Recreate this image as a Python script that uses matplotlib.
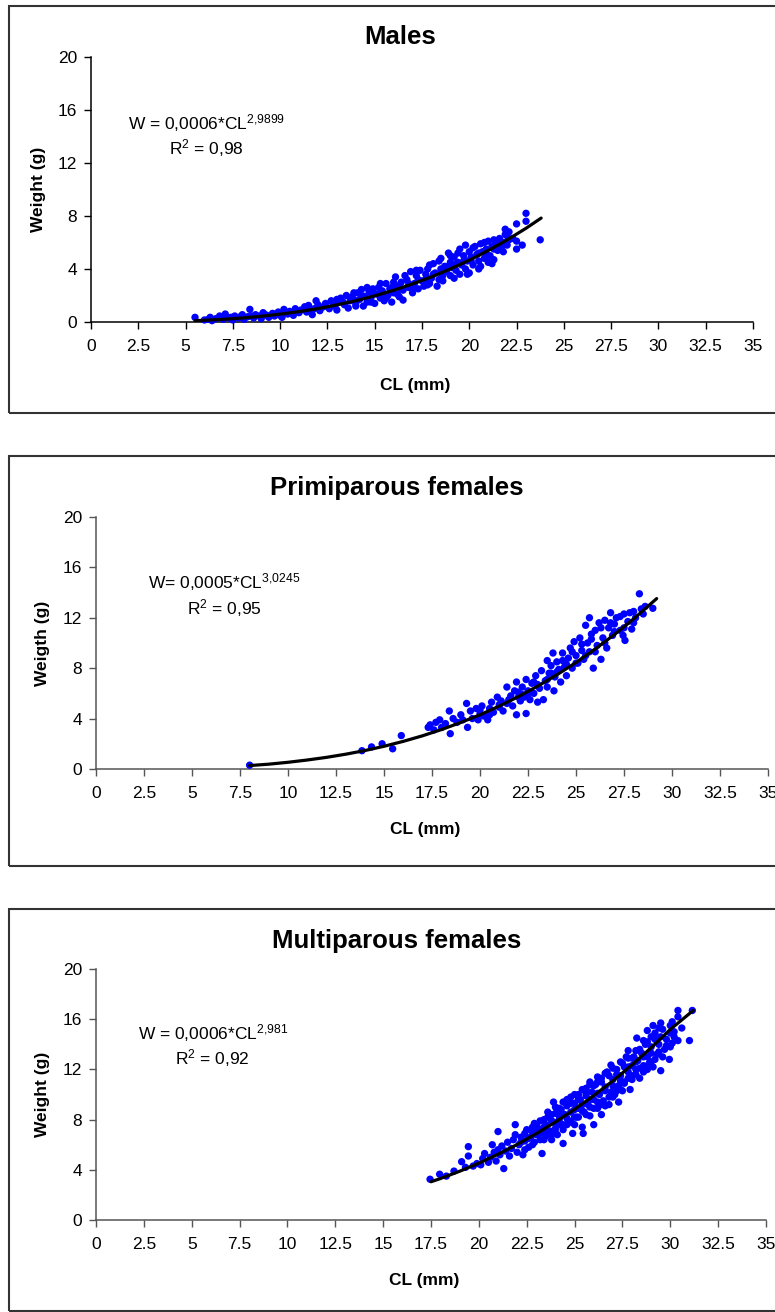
import matplotlib
matplotlib.use("Agg")
import matplotlib.pyplot as plt
from matplotlib.patches import Rectangle

plt.rcParams["font.family"] = ["Liberation Sans", "DejaVu Sans"]
plt.rcParams["mathtext.default"] = "regular"

# ---- data ------------------------------------------------------------------
x_ticks = [0, 2.5, 5, 7.5, 10, 12.5, 15, 17.5, 20, 22.5, 25, 27.5, 30, 32.5, 35]
x_tick_labels = ["0", "2.5", "5", "7.5", "10", "12.5", "15", "17.5", "20",
                 "22.5", "25", "27.5", "30", "32.5", "35"]
y_ticks = [0, 4, 8, 12, 16, 20]

titles = ["Males", "Primiparous females", "Multiparous females"]
y_labels = ["Weight (g)", "Weigth (g)", "Weight (g)"]
equations = ["W = 0,0006*CL$^{2{,}9899}$", "W= 0,0005*CL$^{3{,}0245}$",
             "W = 0,0006*CL$^{2{,}981}$"]
r2_texts = ["R$^{2}$ = 0,98", "R$^{2}$ = 0,95", "R$^{2}$ = 0,92"]

males_pts = [
    (5.5, 0.35), (6.0, 0.15), (6.3, 0.35), (6.4, 0.1), (6.6, 0.25), (6.8, 0.45),
    (7.0, 0.2), (7.1, 0.6), (7.3, 0.3), (7.5, 0.15), (7.6, 0.45), (7.8, 0.3),
    (8.0, 0.55), (8.1, 0.2), (8.3, 0.4), (8.4, 0.95), (8.6, 0.3), (8.7, 0.55),
    (8.9, 0.45), (9.0, 0.25), (9.1, 0.7), (9.3, 0.5), (9.4, 0.35), (9.6, 0.65),
    (9.7, 0.45), (9.9, 0.75), (10.0, 0.5), (10.1, 0.35), (10.2, 0.95), (10.4, 0.6),
    (10.5, 0.8), (10.7, 0.5), (10.8, 1.0), (11.0, 0.7), (11.1, 0.9), (11.3, 1.15),
    (11.4, 0.75), (11.5, 1.25), (11.7, 0.55), (11.8, 1.0), (11.9, 1.6), (12.0, 1.3),
    (12.1, 0.85), (12.3, 1.15), (12.4, 1.4), (12.6, 1.0), (12.7, 1.6), (12.9, 1.2),
    (13.0, 0.9), (13.1, 1.5), (13.2, 1.8), (13.4, 1.3), (13.5, 2.0), (13.6, 1.05),
    (13.7, 1.6), (13.8, 1.9), (14.0, 1.4), (14.1, 2.2), (14.2, 1.7), (14.3, 2.45),
    (14.4, 1.2), (14.5, 1.9), (14.6, 1.5), (14.7, 2.3), (14.8, 1.8), (14.9, 2.5),
    (15.0, 1.4), (15.1, 2.1), (15.2, 2.6), (15.3, 1.8), (15.4, 2.35), (15.5, 1.6),
    (15.6, 2.9), (15.7, 2.0), (15.8, 2.5), (15.9, 1.5), (16.0, 2.2), (16.1, 3.4),
    (16.2, 2.7), (16.3, 1.9), (16.4, 3.0), (16.5, 1.65), (16.5, 2.4), (16.7, 3.2),
    (16.8, 2.6), (16.9, 3.8), (17.0, 2.2), (17.1, 2.9), (17.2, 3.5), (17.3, 2.5),
    (17.4, 3.9), (17.5, 3.1), (17.6, 2.7), (17.7, 3.6), (17.8, 4.0), (17.9, 2.9),
    (18.0, 3.3), (18.1, 4.4), (18.2, 3.7), (18.3, 2.7), (18.4, 3.2), (18.5, 4.8),
    (18.5, 4.0), (18.6, 3.5), (18.7, 4.2), (18.8, 3.8), (18.9, 5.2), (19.0, 4.5),
    (19.0, 3.5), (19.1, 4.1), (19.2, 4.9), (19.3, 3.9), (19.4, 4.5), (19.5, 5.5),
    (19.5, 3.6), (19.6, 4.3), (19.7, 5.0), (19.8, 5.8), (19.8, 4.0), (19.9, 4.6),
    (20.0, 5.3), (20.0, 3.7), (20.1, 4.9), (20.2, 4.3), (20.3, 5.7), (20.4, 5.1),
    (20.5, 4.0), (20.5, 4.6), (20.6, 5.9), (20.7, 5.3), (20.8, 4.8), (20.9, 5.5),
    (21.0, 6.1), (21.0, 4.5), (21.1, 5.0), (21.2, 5.7), (21.3, 4.7), (21.4, 6.0),
    (21.5, 5.4), (21.6, 6.3), (21.7, 5.6), (21.8, 6.0), (21.9, 7.0), (22.0, 6.5),
    (22.0, 5.8), (22.1, 6.8), (22.3, 6.3), (22.5, 7.4), (22.5, 5.5), (22.5, 6.1),
    (22.8, 5.8), (23.0, 8.2), (23.0, 7.6), (23.75, 6.2),
    # filling of the dense band
    (6.2, 0.2), (6.9, 0.3), (7.4, 0.35), (7.9, 0.4), (8.5, 0.45), (9.2, 0.55),
    (9.8, 0.6), (10.3, 0.7), (10.9, 0.8), (11.6, 0.95), (12.2, 1.1), (12.8, 1.35),
    (13.3, 1.55), (13.9, 1.7), (14.4, 1.95), (14.9, 2.1), (15.4, 2.05), (15.9, 2.6),
    (16.4, 2.5), (16.8, 2.9), (17.3, 3.2), (17.7, 3.2), (18.1, 3.6), (18.5, 3.7),
    (18.9, 4.2), (19.3, 4.4), (19.7, 4.6), (20.1, 4.6), (20.5, 5.2), (20.9, 5.1),
    (21.3, 5.5), (21.7, 6.0), (22.1, 6.2),
    (13.0, 1.7), (13.9, 2.2), (14.6, 2.6), (15.3, 2.9), (16.0, 3.0), (16.6, 3.5),
    (17.2, 3.9), (17.9, 4.3), (18.4, 4.6), (19.0, 5.0), (19.4, 5.2), (20.2, 5.6),
    (20.8, 6.0), (21.3, 6.2), (21.9, 6.6),
    (14.0, 1.2), (14.8, 1.5), (15.6, 1.8), (16.2, 2.1), (17.0, 2.5), (17.8, 2.8),
    (18.6, 3.1), (19.2, 3.3), (19.9, 3.6), (20.6, 4.2), (21.2, 4.4), (21.8, 5.3),
]

primi_pts = [
    (8.0, 0.3), (13.85, 1.45), (14.35, 1.75), (14.9, 2.0), (15.45, 1.6), (15.9, 2.65),
    (17.3, 3.3), (17.4, 3.5), (17.6, 3.1), (17.7, 3.7), (17.9, 3.9), (18.0, 3.3),
    (18.2, 3.6), (18.4, 4.6), (18.45, 2.8), (18.6, 4.0), (18.8, 3.7), (19.0, 4.3),
    (19.1, 3.9), (19.3, 5.2), (19.35, 3.3), (19.5, 4.6), (19.6, 4.0), (19.8, 4.8),
    (19.9, 3.9), (20.0, 4.4), (20.1, 5.0), (20.2, 4.2), (20.4, 3.9), (20.5, 4.8),
    (20.6, 5.3), (20.7, 4.5), (20.9, 5.7), (21.0, 4.9), (21.1, 5.4), (21.2, 4.6),
    (21.4, 6.5), (21.4, 5.2), (21.6, 5.8), (21.7, 5.0), (21.9, 6.9), (21.9, 4.3),
    (22.0, 6.1), (22.1, 5.4), (22.2, 6.5), (22.3, 5.7), (22.4, 7.1), (22.4, 4.4),
    (22.5, 6.2), (22.6, 5.5), (22.7, 6.8), (22.8, 6.0), (22.9, 7.4), (23.0, 5.3),
    (23.1, 6.4), (23.2, 7.8), (23.3, 5.5), (23.4, 7.0), (23.5, 8.6), (23.5, 6.5),
    (23.6, 7.6), (23.7, 8.2), (23.8, 9.2), (23.85, 6.2), (23.9, 7.3), (24.0, 8.5),
    (24.1, 7.9), (24.2, 6.9), (24.3, 9.2), (24.4, 8.1), (24.5, 7.4), (24.6, 8.8),
    (24.7, 9.6), (24.8, 8.0), (24.9, 10.1), (25.0, 9.0), (25.1, 8.4), (25.2, 10.4),
    (25.3, 9.4), (25.4, 8.7), (25.5, 11.4), (25.6, 10.0), (25.7, 12.0), (25.7, 9.3),
    (25.8, 10.7), (25.9, 8.0), (26.0, 11.0), (26.1, 9.8), (26.2, 11.6), (26.3, 8.7),
    (26.4, 10.4), (26.5, 11.8), (26.6, 9.6), (26.7, 11.2), (26.8, 12.4), (26.9, 10.6),
    (27.0, 11.5), (27.1, 12.0), (27.3, 11.0), (27.45, 10.6), (27.5, 12.3), (27.55, 10.2),
    (27.7, 11.7), (27.9, 11.1), (28.0, 12.5), (28.1, 12.0), (28.3, 13.9), (28.4, 12.7),
    (28.6, 12.9), (29.0, 12.75),
    # filling of the dense band
    (20.0, 4.7), (20.5, 4.3), (21.0, 5.1), (21.5, 5.5), (22.0, 5.7), (22.5, 6.0),
    (23.0, 6.7), (23.5, 7.1), (24.0, 7.7), (24.5, 8.3), (25.0, 8.4), (25.5, 9.0),
    (26.0, 9.3), (26.5, 10.0), (27.0, 10.9), (27.5, 11.2), (28.0, 11.6), (28.5, 12.3),
    (24.3, 8.6), (24.8, 9.3), (25.3, 9.9), (25.8, 10.3), (26.3, 11.2), (26.8, 11.6),
    (27.3, 12.1), (27.8, 12.4), (23.7, 7.6), (22.8, 6.9), (22.2, 5.9), (21.8, 6.2),
]

multi_pts = [
    (17.45, 3.25), (17.95, 3.65), (18.3, 3.5), (18.7, 3.9), (19.1, 4.65), (19.3, 4.2),
    (19.45, 5.85), (19.45, 5.1), (19.7, 4.3), (19.9, 4.5), (20.1, 4.4), (20.2, 4.9),
    (20.3, 5.3), (20.5, 4.6), (20.6, 5.0), (20.7, 6.0), (20.8, 5.4), (20.9, 4.7),
    (21.0, 7.05), (21.0, 5.6), (21.1, 5.2), (21.2, 5.9), (21.3, 4.1), (21.4, 5.5),
    (21.5, 6.2), (21.6, 5.1), (21.7, 5.7), (21.8, 6.4), (21.9, 7.6), (21.9, 6.8),
    (22.0, 5.4), (22.1, 6.0), (22.2, 6.6), (22.3, 5.2), (22.4, 6.3), (22.5, 7.2),
    (22.6, 5.8), (22.7, 6.6), (22.8, 7.0), (22.9, 7.7), (22.9, 6.2), (23.0, 6.8),
    (23.1, 7.3), (23.2, 6.4), (23.3, 5.3), (23.35, 7.0), (23.5, 7.6), (23.5, 6.7),
    (23.6, 8.2), (23.7, 7.1), (23.8, 6.4), (23.9, 9.4), (23.9, 7.8), (24.0, 8.5),
    (24.0, 7.3), (24.1, 6.8), (24.2, 8.0), (24.3, 8.8), (24.4, 6.1), (24.4, 7.6),
    (24.5, 8.4), (24.6, 9.1), (24.7, 7.9), (24.8, 9.8), (24.8, 8.6), (24.9, 6.9),
    (25.0, 7.6), (25.0, 9.3), (25.1, 8.2), (25.2, 10.0), (25.2, 8.9), (25.3, 9.6),
    (25.4, 7.4), (25.45, 6.9), (25.5, 8.6), (25.6, 9.9), (25.6, 10.5), (25.7, 9.2),
    (25.8, 11.0), (25.8, 8.3), (25.9, 10.2), (26.0, 7.6), (26.0, 9.6), (26.1, 10.8),
    (26.2, 11.4), (26.2, 8.9), (26.3, 10.0), (26.4, 8.4), (26.4, 11.0), (26.5, 9.5),
    (26.6, 10.6), (26.7, 11.8), (26.8, 9.2), (26.9, 12.35), (26.9, 10.2), (27.0, 11.2),
    (27.1, 10.0), (27.2, 12.0), (27.3, 10.7), (27.3, 9.4), (27.4, 11.5), (27.5, 12.5),
    (27.5, 10.3), (27.6, 11.0), (27.7, 13.0), (27.8, 13.5), (27.8, 11.8), (27.9, 10.4),
    (28.0, 12.3), (28.0, 11.2), (28.1, 13.0), (28.2, 12.0), (28.25, 14.5), (28.3, 12.7),
    (28.4, 11.3), (28.5, 13.3), (28.6, 12.3), (28.7, 14.0), (28.8, 15.1), (28.8, 13.0),
    (28.9, 12.5), (29.0, 13.8), (29.1, 15.5), (29.1, 12.2), (29.2, 14.4), (29.3, 13.2),
    (29.5, 15.7), (29.5, 11.9), (29.5, 14.6), (29.7, 13.6), (29.95, 12.8), (30.0, 14.9),
    (30.1, 14.1), (30.1, 15.8), (30.4, 16.7), (30.4, 16.2), (31.0, 14.3), (31.15, 16.7),
    # dense core around the fitted curve
    (22.2, 6.2), (22.6, 6.5), (23.0, 7.1), (23.4, 7.4), (23.8, 7.9), (24.2, 8.3),
    (24.6, 8.1), (25.0, 8.8), (25.4, 9.2), (25.8, 9.6), (26.2, 10.1), (26.6, 10.3),
    (27.0, 10.7), (27.4, 11.1), (27.8, 12.2), (28.2, 12.6), (28.6, 13.0), (29.0, 13.3),
    (29.4, 14.0), (29.8, 14.4), (30.2, 15.0), (30.6, 15.3),
    (22.4, 6.9), (22.8, 7.4), (23.2, 7.9), (23.6, 8.6), (24.0, 9.0), (24.4, 9.4),
    (24.8, 9.3), (25.2, 9.6), (25.6, 10.1), (26.0, 10.7), (26.4, 11.3), (26.8, 11.5),
    (27.2, 11.6), (27.6, 12.2), (28.0, 12.9), (28.4, 13.6), (28.8, 14.2), (29.2, 14.9),
    (29.6, 15.2), (30.0, 15.5),
    (22.4, 5.6), (22.8, 6.0), (23.2, 6.9), (23.6, 7.0), (24.0, 7.0), (24.4, 7.2),
    (24.8, 7.8), (25.2, 8.2), (25.6, 8.4), (26.0, 8.9), (26.4, 9.2), (26.8, 9.8),
    (27.2, 10.3), (27.6, 10.9), (28.0, 11.5), (28.4, 12.1), (28.8, 12.0), (29.2, 12.8),
    (29.6, 13.0), (30.0, 13.8), (30.4, 14.3),
    (23.0, 7.6), (23.4, 8.0), (23.8, 8.4), (24.2, 8.9), (24.6, 9.6), (25.0, 10.0),
    (25.4, 10.4), (25.8, 10.8), (26.2, 11.0), (26.6, 11.7), (27.0, 12.1), (27.4, 12.6),
    (27.8, 12.9), (28.2, 13.5), (28.6, 14.3), (29.0, 14.6), (29.4, 15.3),
    (23.4, 6.4), (23.8, 6.8), (24.2, 7.6), (24.6, 7.6), (25.0, 8.2), (25.4, 8.7),
    (25.8, 9.0), (26.2, 9.4), (26.6, 9.1), (27.0, 9.8), (27.4, 10.4), (27.8, 11.3),
    (28.2, 11.6), (28.6, 11.8), (29.0, 12.6), (29.4, 13.4), (29.8, 13.9), (30.2, 14.6),
]

# power trend lines as drawn on the reference
males_fit_cl = [5.5, 6, 7, 8, 9, 10, 11, 12, 13, 14, 15, 16, 17, 18, 19, 20,
                21, 22, 23, 23.8]
males_fit_w = [0.10, 0.13, 0.20, 0.30, 0.43, 0.59, 0.78, 1.01, 1.29, 1.60, 1.97,
               2.39, 2.87, 3.40, 4.00, 4.66, 5.39, 6.19, 7.07, 7.84]
primi_fit_cl = [8, 9, 10, 11, 12, 13, 14, 15, 16, 17, 18, 19, 20, 21, 22, 23,
                24, 25, 26, 27, 28, 29.2]
primi_fit_w = [0.27, 0.38, 0.53, 0.71, 0.92, 1.17, 1.46, 1.80, 2.19, 2.63, 3.13,
               3.69, 4.30, 4.99, 5.74, 6.57, 7.47, 8.45, 9.52, 10.67, 11.91, 13.52]
multi_fit_cl = [17.5, 18, 19, 20, 21, 22, 23, 24, 25, 26, 27, 28, 29, 30, 31.2]
multi_fit_w = [3.05, 3.31, 3.89, 4.53, 5.24, 6.02, 6.88, 7.81, 8.82, 9.91, 11.09,
               12.36, 13.73, 15.19, 16.70]

# ---- layout (figure fractions) ---------------------------------------------
axes_rects = [
    [0.1174, 0.7546, 0.8542, 0.2020],
    [0.1239, 0.4139, 0.8671, 0.1921],
    [0.1239, 0.0701, 0.8645, 0.1913],
]
frame_rects = [  # x0, y0, height of the outer chart-area boxes
    (0.0116, 0.6852, 0.3102),
    (0.0116, 0.3399, 0.3125),
    (0.0116, 0.0008, 0.3064),
]
eq_pos = [(6.1, 15.0, 13.1), (6.7, 14.8, 12.8), (6.1, 14.9, 12.9)]
title_x = [0.467, 0.448, 0.448]
title_y = [1.075, 1.115, 1.11]
spine_colors = ["black", "#555555", "#555555"]

fig = plt.figure(figsize=(7.75, 13.12), dpi=100)

for (x0, y0, h) in frame_rects:
    fig.patches.append(Rectangle((x0, y0), 1.2, h, transform=fig.transFigure,
                                 fill=False, edgecolor="#333333", lw=1.5))

panels = [
    (males_pts, males_fit_cl, males_fit_w),
    (primi_pts, primi_fit_cl, primi_fit_w),
    (multi_pts, multi_fit_cl, multi_fit_w),
]

for i, (pts, fit_cl, fit_w) in enumerate(panels):
    ax = fig.add_axes(axes_rects[i])
    cl = [p[0] for p in pts]
    w = [p[1] for p in pts]
    ax.scatter(cl, w, s=28, color="#0000FF", edgecolors="none", zorder=3,
               clip_on=False)
    ax.plot(fit_cl, fit_w, color="black", lw=2.3, zorder=4,
            solid_capstyle="round")

    ax.set_xlim(0, 35)
    ax.set_ylim(0, 20)
    ax.set_xticks(x_ticks)
    ax.set_xticklabels(x_tick_labels)
    ax.set_yticks(y_ticks)
    ax.tick_params(axis="x", direction="out", length=5, width=1, pad=7,
                   labelsize=12.5, color=spine_colors[i])
    ax.tick_params(axis="y", direction="out", length=5, width=1, pad=5,
                   labelsize=12.5, color=spine_colors[i])
    for side in ["top", "right"]:
        ax.spines[side].set_visible(False)
    for side in ["left", "bottom"]:
        ax.spines[side].set_color(spine_colors[i])
        ax.spines[side].set_linewidth(1.1)

    ax.set_xlabel("CL (mm)", fontsize=12.5, fontweight="bold")
    ax.xaxis.set_label_coords(0.49, -0.21)
    ax.set_ylabel(y_labels[i], fontsize=12.5, fontweight="bold")
    ax.yaxis.set_label_coords(-0.068, 0.5)
    ax.text(title_x[i], title_y[i], titles[i], transform=ax.transAxes,
            ha="center", va="center", fontsize=18.5, fontweight="bold")

    ex, ey, ry = eq_pos[i]
    ax.text(ex, ey, equations[i], ha="center", va="center", fontsize=12.5)
    ax.text(ex, ry, r2_texts[i], ha="center", va="center", fontsize=12.5)

fig.savefig("out.png", dpi=100)
